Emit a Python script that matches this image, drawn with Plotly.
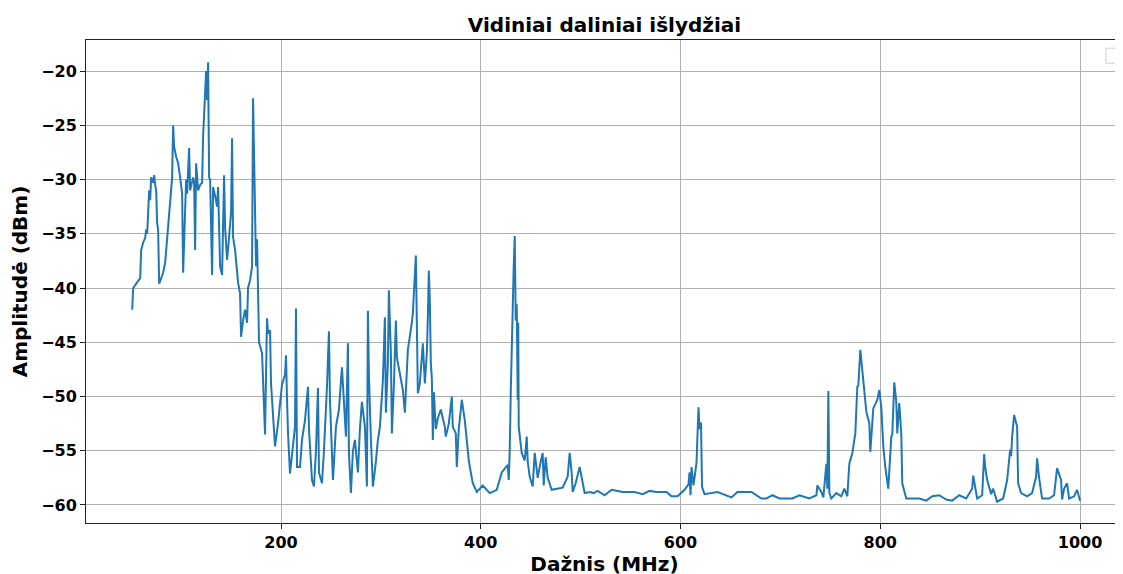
import plotly.graph_objects as go

freq_mhz = [
    51, 52, 55, 59, 60, 62, 64, 65, 66, 67, 68, 69, 70, 72, 73, 74, 75, 76, 77, 78,
    80, 82, 84, 86, 87, 89, 90, 91, 92, 93, 95, 97, 99, 101, 102, 104, 105, 106, 108, 109,
    111, 112, 113, 114, 115, 117, 119, 121, 122, 123, 124, 125, 126, 127, 128, 129, 131, 132, 134, 136,
    137, 139, 141, 143, 144, 146, 148, 150, 151, 152, 154, 156, 157, 159, 160, 162, 164, 166, 167, 169,
    171, 172, 173, 174, 175, 176, 177, 178, 181, 182, 184, 185, 186, 187, 189, 190, 192, 194, 197, 199,
    201, 204, 205, 206, 207, 209, 211, 214, 215, 216, 219, 221, 224, 227, 228, 231, 233, 235, 237, 238,
    241, 243, 246, 248, 249, 252, 255, 258, 261, 263, 265, 267, 268, 270, 272, 274, 277, 279, 281, 284,
    286, 287, 288, 290, 292, 295, 297, 299, 302, 304, 305, 307, 308, 310, 311, 313, 315, 316, 319, 322,
    324, 326, 327, 331, 332, 335, 336, 337, 339, 342, 344, 346, 347, 348, 349, 350, 351, 352, 353, 355,
    357, 360, 362, 364, 365, 368, 371, 372, 375, 376, 378, 381, 384, 386, 388, 390, 392, 396, 402, 409,
    416, 421, 427, 428, 429, 430, 431, 432, 433, 434, 435, 436, 437, 437.5, 438, 441, 444, 446, 447, 449,
    452, 454, 457, 460, 462, 463, 465, 467, 471, 482, 487, 489, 491, 492, 495, 499, 502, 504, 509, 513,
    517, 524, 531, 542, 554, 562, 569, 576, 586, 591, 597, 604, 608, 609, 610, 611, 613, 615, 616, 617,
    618, 619, 620.5, 621.5, 624, 637, 651, 657, 671, 681, 686, 692, 699, 712, 719, 729, 736, 737, 741, 743,
    746, 747, 748, 749, 751, 756, 761, 764, 767, 769, 772, 775, 777, 778, 780, 782, 786, 789, 790, 793,
    797, 799, 801, 803, 805, 808, 810, 811, 812, 814, 816, 817, 819, 821, 822, 826, 839, 846, 852, 859,
    866, 872, 879, 886, 892, 893, 897, 902, 904, 905, 907, 911, 913, 917, 923, 927, 930, 931, 932, 934,
    937, 938, 941, 947, 952, 956, 957, 959, 962, 969, 974, 977, 981, 982, 984, 987, 989, 994, 997, 998.5,
    1000,
]

amplitude_dbm = [
    -42.0, -40.0, -39.6, -39.1, -36.5, -35.8, -35.4, -34.6, -35.0, -33.4, -31.0, -31.9, -29.8, -30.3, -29.6, -30.5, -31.0, -34.0, -34.7, -39.6,
    -39.0, -38.6, -37.7, -35.3, -34.0, -32.2, -30.7, -29.8, -25.0, -27.0, -27.9, -28.5, -29.8, -31.3, -38.6, -33.0, -30.0, -31.3, -27.1, -31.0,
    -30.3, -29.8, -30.3, -36.5, -28.5, -31.0, -30.5, -30.3, -26.0, -23.9, -21.0, -20.0, -22.7, -19.2, -29.8, -30.0, -38.8, -30.7, -31.5, -32.5,
    -30.7, -38.0, -38.8, -29.6, -34.4, -37.4, -35.3, -33.0, -26.2, -35.3, -36.5, -38.5, -39.5, -40.5, -44.5, -43.0, -42.0, -43.2, -40.0, -39.3,
    -38.0, -22.5, -28.8, -35.0, -38.0, -35.5, -40.2, -45.0, -46.0, -48.2, -53.5, -48.0, -42.8, -44.2, -43.9, -48.8, -51.5, -54.6, -52.5, -50.6,
    -48.9, -48.0, -46.2, -50.3, -53.4, -57.1, -55.6, -52.8, -41.9, -56.5, -56.5, -54.0, -52.2, -49.1, -53.0, -57.7, -58.3, -55.0, -49.2, -57.0,
    -58.0, -55.0, -49.1, -44.0, -50.3, -57.7, -52.8, -51.2, -47.3, -50.0, -53.7, -45.1, -55.2, -58.9, -55.0, -54.0, -57.0, -53.0, -50.5, -52.8,
    -58.3, -42.1, -48.0, -54.0, -58.3, -56.0, -54.0, -52.8, -48.5, -42.7, -51.5, -47.0, -40.2, -46.0, -53.4, -49.0, -43.0, -46.4, -47.8, -49.4,
    -51.5, -47.6, -45.7, -43.2, -42.3, -37.0, -46.6, -49.7, -48.8, -45.1, -48.8, -46.0, -42.7, -38.4, -41.1, -46.9, -48.3, -54.0, -49.6, -53.0,
    -52.0, -51.2, -52.0, -52.8, -53.7, -52.5, -50.0, -52.8, -53.4, -56.5, -53.0, -50.3, -52.2, -54.0, -55.9, -57.0, -58.0, -58.8, -58.2, -58.9,
    -58.6, -57.0, -56.3, -57.7, -54.9, -49.7, -44.5, -41.0, -38.0, -35.2, -43.0, -41.5, -50.3, -43.2, -52.8, -55.2, -55.9, -53.7, -56.0, -57.4,
    -58.3, -55.2, -57.5, -56.0, -55.2, -58.2, -55.6, -57.5, -58.6, -58.4, -57.4, -55.2, -57.0, -58.8, -58.0, -56.5, -58.0, -58.9, -58.8, -58.9,
    -58.7, -59.1, -58.6, -58.8, -58.8, -59.0, -58.7, -58.8, -58.8, -59.2, -59.2, -58.6, -58.1, -57.0, -59.1, -56.5, -58.2, -57.0, -56.1, -53.5,
    -51.0, -53.0, -52.4, -58.3, -59.0, -58.8, -59.3, -58.8, -58.8, -59.4, -59.4, -59.1, -59.4, -59.4, -59.1, -59.4, -59.1, -58.2, -58.8, -59.3,
    -56.2, -58.5, -49.5, -58.9, -59.4, -58.9, -59.2, -58.5, -59.2, -56.2, -55.2, -53.4, -49.1, -49.0, -45.7, -47.6, -51.4, -52.5, -55.1, -51.1,
    -50.3, -49.4, -51.0, -54.6, -56.5, -58.5, -55.0, -53.7, -53.5, -48.7, -50.5, -53.4, -50.6, -53.4, -58.0, -59.4, -59.4, -59.6, -59.2, -59.1,
    -59.5, -59.6, -59.1, -59.4, -58.5, -57.3, -59.4, -59.1, -55.3, -56.5, -57.7, -59.0, -58.5, -59.7, -59.4, -57.7, -54.9, -55.5, -53.7, -51.7,
    -52.8, -58.0, -58.9, -59.2, -58.9, -57.4, -55.7, -57.5, -59.4, -59.4, -59.1, -56.6, -57.7, -59.5, -58.5, -58.0, -59.4, -59.2, -58.6, -59.2,
    -59.6,
]

x_ticks = [200, 400, 600, 800, 1000]
y_ticks = [-20, -25, -30, -35, -40, -45, -50, -55, -60]

title_text = "Vidiniai daliniai išlydžiai"
x_title = "Dažnis (MHz)"
y_title = "Amplitudė (dBm)"

FONT = "DejaVu Sans"

fig = go.Figure()
fig.add_trace(go.Scatter(
    x=freq_mhz, y=amplitude_dbm, mode="lines",
    line=dict(color="#1f77b4", width=2),
    showlegend=False,
))

axis_common = dict(
    showline=True, mirror=True, linecolor="#222222", linewidth=1,
    ticks="outside", ticklen=5, tickwidth=1, tickcolor="#222222",
    showgrid=True, gridcolor="#b0b0b0", gridwidth=1, zeroline=False,
    automargin=False,
    tickfont=dict(family=FONT, size=16, color="black", weight="bold"),
)

# The page body adds an 8px offset; margins are chosen so the plot area
# lands at x 86..1123, y 40..523 in the screenshot.
fig.update_layout(
    width=1123, height=574,
    margin=dict(l=78, r=8, t=32, b=59, autoexpand=False),
    paper_bgcolor="white", plot_bgcolor="white",
    title=dict(text="<b>" + title_text + "</b>", x=0.5, xanchor="center",
               y=1 - 17 / 574, yref="container", yanchor="middle",
               xref="paper",
               font=dict(family=FONT, size=20, color="black")),
    xaxis=dict(axis_common, range=[4.75, 1043], tickvals=x_ticks,
               title=dict(text="<b>" + x_title + "</b>", standoff=3,
                          font=dict(family=FONT, size=20, color="black"))),
    yaxis=dict(axis_common, range=[-61.66, -17.14], tickvals=y_ticks,
               title=dict(text="<b>" + y_title + "</b>", standoff=9,
                          font=dict(family=FONT, size=20, color="black"))),
    shapes=[dict(type="rect", xref="paper", yref="paper",
                 x0=0.9836, x1=0.9971, y0=0.952, y1=0.983,
                 line=dict(color="#d0d0d0", width=1), fillcolor="white")],
)

fig.write_html("out.html")
